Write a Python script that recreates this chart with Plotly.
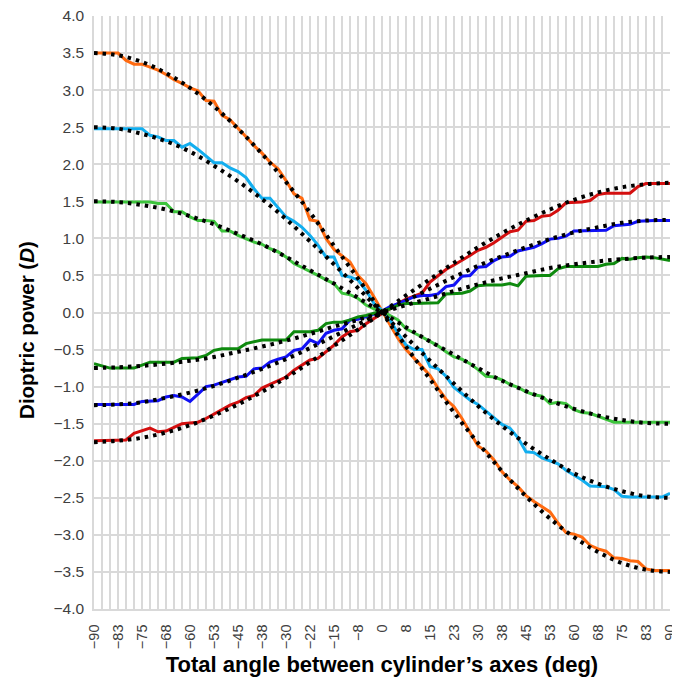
import plotly.graph_objects as go

# angle categories (deg), one every 2.5
X_DEG = [-90, -87.5, -85, -82.5, -80, -77.5, -75, -72.5, -70, -67.5, -65, -62.5,
         -60, -57.5, -55, -52.5, -50, -47.5, -45, -42.5, -40, -37.5, -35, -32.5,
         -30, -27.5, -25, -22.5, -20, -17.5, -15, -12.5, -10, -7.5, -5, -2.5,
         0, 2.5, 5, 7.5, 10, 12.5, 15, 17.5, 20, 22.5, 25, 27.5, 30, 32.5, 35, 37.5,
         40, 42.5, 45, 47.5, 50, 52.5, 55, 57.5, 60, 62.5, 65, 67.5, 70, 72.5, 75,
         77.5, 80, 82.5, 85, 87.5, 90]

TICK_LABELS = ["\u221290", "\u221283", "\u221275", "\u221268", "\u221260", "\u221253",
               "\u221245", "\u221238", "\u221230", "\u221222", "\u221215", "\u22128",
               "0", "8", "15", "23", "30", "38", "45", "53", "60", "68", "75", "83", "90"]

# measured curves
ORANGE = [3.50, 3.50, 3.50, 3.50, 3.40, 3.35, 3.35, 3.31, 3.27, 3.21,
          3.14, 3.09, 3.03, 2.99, 2.86, 2.85, 2.66, 2.60, 2.49, 2.37,
          2.25, 2.15, 2.03, 1.94, 1.78, 1.60, 1.54, 1.25, 1.23, 1.00,
          0.85, 0.77, 0.68, 0.50, 0.39, 0.21, 0.02, -0.15, -0.35, -0.50,
          -0.61, -0.73, -0.85, -1.02, -1.17, -1.27, -1.43, -1.61, -1.80, -1.87,
          -1.99, -2.15, -2.26, -2.35, -2.47, -2.55, -2.62, -2.69, -2.84, -2.97,
          -2.99, -3.03, -3.14, -3.19, -3.22, -3.31, -3.32, -3.35, -3.36, -3.46,
          -3.48, -3.48, -3.48]

LIGHT_BLUE = [2.48, 2.48, 2.48, 2.48, 2.48, 2.48, 2.48, 2.39, 2.37, 2.32,
              2.32, 2.23, 2.28, 2.20, 2.11, 2.02, 2.02, 1.95, 1.90, 1.82,
              1.67, 1.54, 1.54, 1.42, 1.29, 1.23, 1.15, 1.04, 0.91, 0.75,
              0.75, 0.50, 0.48, 0.44, 0.30, 0.12, 0.03, -0.10, -0.28, -0.44,
              -0.50, -0.50, -0.73, -0.76, -0.86, -1.01, -1.10, -1.18, -1.24, -1.33,
              -1.42, -1.51, -1.56, -1.69, -1.88, -1.89, -1.96, -2.00, -2.04, -2.13,
              -2.19, -2.26, -2.34, -2.35, -2.35, -2.39, -2.48, -2.49, -2.49, -2.49,
              -2.49, -2.49, -2.44]

LIGHT_GREEN = [1.49, 1.49, 1.49, 1.49, 1.49, 1.49, 1.49, 1.49, 1.47, 1.47,
               1.36, 1.36, 1.29, 1.24, 1.24, 1.23, 1.10, 1.10, 1.04, 0.99,
               0.95, 0.92, 0.86, 0.82, 0.75, 0.66, 0.61, 0.55, 0.50, 0.44,
               0.39, 0.26, 0.24, 0.19, 0.10, 0.05, 0.02, -0.04, -0.10, -0.22,
               -0.27, -0.33, -0.39, -0.45, -0.53, -0.60, -0.63, -0.69, -0.77, -0.86,
               -0.87, -0.91, -0.97, -1.01, -1.07, -1.11, -1.13, -1.23, -1.21, -1.23,
               -1.31, -1.35, -1.36, -1.40, -1.44, -1.48, -1.48, -1.48, -1.48, -1.48,
               -1.48, -1.48, -1.48]

RED = [-1.73, -1.73, -1.73, -1.73, -1.72, -1.63, -1.60, -1.56, -1.61, -1.60,
       -1.55, -1.50, -1.49, -1.48, -1.43, -1.37, -1.32, -1.25, -1.21, -1.15,
       -1.12, -1.02, -0.97, -0.92, -0.87, -0.78, -0.71, -0.64, -0.62, -0.53,
       -0.44, -0.33, -0.26, -0.24, -0.15, -0.08, -0.01, 0.05, 0.12, 0.18,
       0.22, 0.26, 0.41, 0.50, 0.58, 0.64, 0.70, 0.77, 0.84, 0.88,
       0.94, 1.01, 1.09, 1.11, 1.23, 1.24, 1.30, 1.31, 1.38, 1.48,
       1.48, 1.49, 1.51, 1.59, 1.61, 1.61, 1.61, 1.61, 1.70, 1.74,
       1.74, 1.74, 1.74]

DARK_BLUE = [-1.24, -1.24, -1.24, -1.24, -1.24, -1.24, -1.20, -1.20, -1.19, -1.14,
             -1.12, -1.14, -1.20, -1.10, -1.00, -0.98, -0.94, -0.91, -0.87, -0.86,
             -0.76, -0.75, -0.67, -0.63, -0.60, -0.51, -0.49, -0.37, -0.42, -0.28,
             -0.24, -0.22, -0.10, -0.09, -0.06, -0.02, 0.02, 0.08, 0.12, 0.17,
             0.21, 0.23, 0.23, 0.25, 0.35, 0.37, 0.49, 0.50, 0.61, 0.62,
             0.70, 0.75, 0.76, 0.83, 0.86, 0.88, 0.93, 0.99, 1.00, 1.03,
             1.10, 1.10, 1.10, 1.11, 1.11, 1.17, 1.18, 1.19, 1.23, 1.24,
             1.24, 1.24, 1.24]

DARK_GREEN = [-0.69, -0.72, -0.75, -0.75, -0.75, -0.75, -0.71, -0.67, -0.67, -0.67,
              -0.67, -0.62, -0.62, -0.61, -0.58, -0.51, -0.49, -0.49, -0.49, -0.42,
              -0.40, -0.37, -0.37, -0.37, -0.37, -0.26, -0.26, -0.26, -0.24, -0.15,
              -0.13, -0.13, -0.10, -0.06, -0.04, -0.01, 0.02, 0.05, 0.10, 0.12,
              0.12, 0.12, 0.12, 0.13, 0.25, 0.25, 0.26, 0.29, 0.36, 0.37,
              0.37, 0.37, 0.39, 0.36, 0.49, 0.50, 0.50, 0.50, 0.59, 0.62,
              0.62, 0.62, 0.62, 0.62, 0.65, 0.66, 0.73, 0.72, 0.74, 0.75,
              0.74, 0.72, 0.70]

# theoretical curves, read every 7.5 deg
X_THEORY = X_DEG[::3]
ORANGE_T = [3.50, 3.47, 3.38, 3.23, 3.03, 2.78, 2.48, 2.14, 1.76, 1.35, 0.90, 0.46, 0.00,
            -0.46, -0.90, -1.35, -1.76, -2.14, -2.48, -2.78, -3.03, -3.23, -3.38, -3.47, -3.50]
LIGHT_BLUE_T = [2.50, 2.48, 2.41, 2.31, 2.17, 1.98, 1.77, 1.53, 1.26, 0.96, 0.65, 0.33, 0.00,
                -0.33, -0.65, -0.96, -1.26, -1.53, -1.77, -1.98, -2.17, -2.31, -2.41, -2.48, -2.50]
LIGHT_GREEN_T = [1.50, 1.49, 1.45, 1.39, 1.30, 1.19, 1.06, 0.92, 0.75, 0.57, 0.39, 0.20, 0.00,
                 -0.20, -0.39, -0.57, -0.75, -0.92, -1.06, -1.19, -1.30, -1.39, -1.45, -1.49, -1.50]
RED_T = [-1.75, -1.73, -1.69, -1.62, -1.52, -1.39, -1.24, -1.07, -0.88, -0.67, -0.45, -0.23, 0.00,
         0.23, 0.45, 0.67, 0.88, 1.07, 1.24, 1.39, 1.52, 1.62, 1.69, 1.73, 1.75]
DARK_BLUE_T = [-1.25, -1.24, -1.21, -1.15, -1.08, -0.99, -0.88, -0.76, -0.63, -0.48, -0.32, -0.16, 0.00,
               0.16, 0.32, 0.48, 0.63, 0.76, 0.88, 0.99, 1.08, 1.15, 1.21, 1.24, 1.25]
DARK_GREEN_T = [-0.75, -0.74, -0.72, -0.69, -0.65, -0.60, -0.53, -0.46, -0.38, -0.29, -0.19, -0.10, 0.00,
                0.10, 0.19, 0.29, 0.38, 0.46, 0.53, 0.60, 0.65, 0.69, 0.72, 0.74, 0.75]

measured = [
    (ORANGE, "#FF6A10"),
    (LIGHT_BLUE, "#12AEEF"),
    (LIGHT_GREEN, "#3CC43C"),
    (RED, "#D40F0F"),
    (DARK_BLUE, "#1010F5"),
    (DARK_GREEN, "#0E8A0E"),
]
theory = [ORANGE_T, LIGHT_BLUE_T, LIGHT_GREEN_T, RED_T, DARK_BLUE_T, DARK_GREEN_T]

fig = go.Figure()
for ys, col in measured:
    fig.add_trace(go.Scatter(x=X_DEG, y=ys, mode="lines",
                             line=dict(color=col, width=3), showlegend=False))
for ys in theory:
    fig.add_trace(go.Scatter(x=X_THEORY, y=ys, mode="lines",
                             line=dict(color="black", width=4, dash="3.5px,5px", shape="spline"),
                             showlegend=False))

ticktext = [TICK_LABELS[i // 3] if i % 3 == 0 else "" for i in range(len(X_DEG))]

# page body adds an 8px margin, so the figure is sized to fit inside the window
fig.update_layout(
    width=672, height=671,
    margin=dict(l=85.5, r=9.5, t=7.5, b=70),
    paper_bgcolor="white", plot_bgcolor="white",
    font=dict(family="Liberation Sans, Arial", color="#404040"),
    xaxis=dict(
        range=[-90, 90], tickmode="array", tickvals=X_DEG, ticktext=ticktext,
        tickangle=-90, tickfont=dict(size=14.5, color="#404040"),
        ticklabeloverflow="allow",
        showgrid=True, gridcolor="#D9D9D9", gridwidth=1.5,
        zeroline=False, showline=True, linecolor="#D9D9D9", linewidth=1.5,
        ticks="outside", ticklen=8, tickcolor="rgba(0,0,0,0)",
        automargin=False,
        title=dict(text="<b>Total angle between cylinder\u2019s axes (deg)</b>",
                   font=dict(size=22, color="black"), standoff=8),
    ),
    yaxis=dict(
        range=[-4, 4], dtick=0.5, tick0=0, tickformat=".1f",
        tickfont=dict(size=15.5, color="#404040"),
        ticklabeloverflow="allow",
        showgrid=True, gridcolor="#D9D9D9", gridwidth=1.5,
        zeroline=True, zerolinecolor="#D9D9D9", zerolinewidth=1.5,
        showline=True, linecolor="#D9D9D9", linewidth=1.5,
        ticks="outside", ticklen=5, tickcolor="rgba(0,0,0,0)",
        automargin=False,
    ),
    annotations=[dict(
        text="<b>Dioptric power (<i>D</i>)</b>", textangle=-90,
        xref="paper", yref="paper", x=-0.117, y=0.47,
        xanchor="center", yanchor="middle", showarrow=False,
        font=dict(size=20.5, color="black"),
    )],
)

fig.write_html("out.html")
